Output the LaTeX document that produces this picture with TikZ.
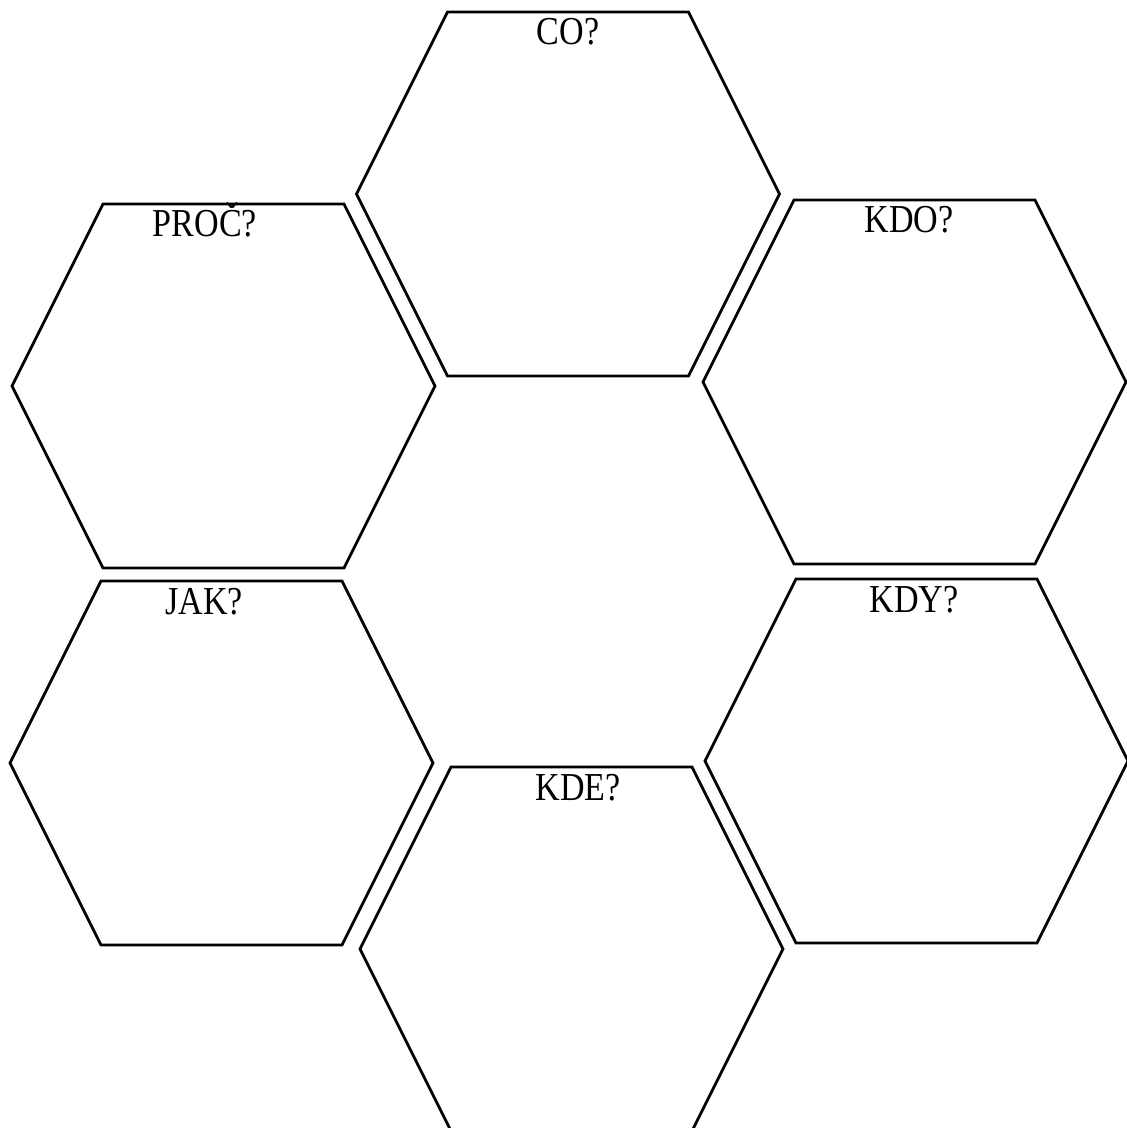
\documentclass[tikz,border=0pt]{standalone}
\usepackage{fontspec}
\setmainfont{Liberation Serif}[FakeStretch=0.86]
\begin{document}
\begin{tikzpicture}[x=0.5pt, y=-0.5pt,
    hexa/.style={line width=1.4pt, line join=miter},
    lbl/.style={anchor=base, inner sep=0pt, font=\fontsize{19.8}{22}\selectfont}]
    % page frame
    \path[use as bounding box, clip] (0,0) rectangle (1127,1128);

    % six hexagons: centre x, centre y, label x, label, name
    \foreach \cx/\cy/\lx/\txt/\nm in {568/194/568/CO?/co, 223.5/386/205/PROČ?/proc,
        914.5/382/909/KDO?/kdo, 221.5/763/204/JAK?/jak,
        916.5/761/914/KDY?/kdy, 571.5/949/578/KDE?/kde} {
      \draw[hexa] (\cx-120.5,\cy-182) -- ++(241,0) -- ++(91,182) -- ++(-91,182)
        -- ++(-241,0) -- ++(-91,-182) -- cycle;
      \node[lbl] (\nm) at (\lx,\cy-149) {\txt};
    }
\end{tikzpicture}
\end{document}
